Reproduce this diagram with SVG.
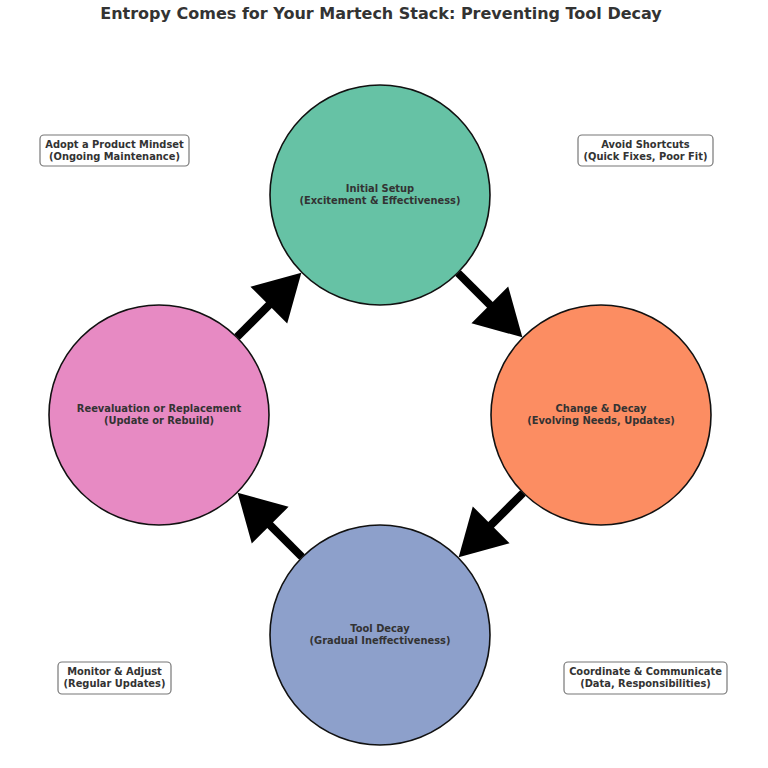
<svg xmlns="http://www.w3.org/2000/svg" width="768" height="768" viewBox="0 0 768 768">
<style>
text{font-family:"DejaVu Sans",sans-serif;font-weight:bold;fill:#333;text-anchor:middle}
.t{font-size:16px}
.c{font-size:9.9px}
.b{font-size:9.9px}
circle{stroke:#111;stroke-width:1.6}
.box{fill:#fff;stroke:#777;stroke-width:1.2}
.arr{stroke:#000;stroke-width:8;fill:none}
.hd{fill:#000}
</style>
<rect width="768" height="768" fill="#fff"/>
<text class="t" x="381" y="19">Entropy Comes for Your Martech Stack: Preventing Tool Decay</text>
<g id="connectors">
<g transform="translate(458,273) rotate(45)"><line class="arr" x1="0" y1="0" x2="48" y2="0"/><polygon class="hd" points="91,0 45,-26 45,26"/></g>
<g transform="translate(523,493) rotate(135)"><line class="arr" x1="0" y1="0" x2="48" y2="0"/><polygon class="hd" points="91,0 45,-26 45,26"/></g>
<g transform="translate(302,557) rotate(225)"><line class="arr" x1="0" y1="0" x2="48" y2="0"/><polygon class="hd" points="91,0 45,-26 45,26"/></g>
<g transform="translate(237,337) rotate(315)"><line class="arr" x1="0" y1="0" x2="48" y2="0"/><polygon class="hd" points="91,0 45,-26 45,26"/></g>
</g>
<g id="initial"><circle cx="380" cy="195" r="110" fill="#66c2a5"/><text class="c" x="380" y="192">Initial Setup</text><text class="c" x="380" y="204">(Excitement &amp; Effectiveness)</text></g>
<g id="change"><circle cx="601" cy="415" r="110" fill="#fc8d62"/><text class="c" x="601" y="412">Change &amp; Decay</text><text class="c" x="601" y="424">(Evolving Needs, Updates)</text></g>
<g id="decay"><circle cx="380" cy="635" r="110" fill="#8da0cb"/><text class="c" x="380" y="632">Tool Decay</text><text class="c" x="380" y="644">(Gradual Ineffectiveness)</text></g>
<g id="reeval"><circle cx="159" cy="415" r="110" fill="#e78ac3"/><text class="c" x="159" y="412">Reevaluation or Replacement</text><text class="c" x="159" y="424">(Update or Rebuild)</text></g>
<g id="mindset"><rect class="box" x="40" y="135" width="149" height="31" rx="4"/><text class="b" x="114.5" y="148">Adopt a Product Mindset</text><text class="b" x="114.5" y="160">(Ongoing Maintenance)</text></g>
<g id="shortcuts"><rect class="box" x="578" y="135" width="135" height="31" rx="4"/><text class="b" x="645.5" y="148">Avoid Shortcuts</text><text class="b" x="645.5" y="160">(Quick Fixes, Poor Fit)</text></g>
<g id="monitor"><rect class="box" x="58" y="662" width="113" height="32" rx="4"/><text class="b" x="114.5" y="675">Monitor &amp; Adjust</text><text class="b" x="114.5" y="687">(Regular Updates)</text></g>
<g id="coordinate"><rect class="box" x="564" y="662" width="163" height="32" rx="4"/><text class="b" x="645.5" y="675">Coordinate &amp; Communicate</text><text class="b" x="645.5" y="687">(Data, Responsibilities)</text></g>
</svg>
